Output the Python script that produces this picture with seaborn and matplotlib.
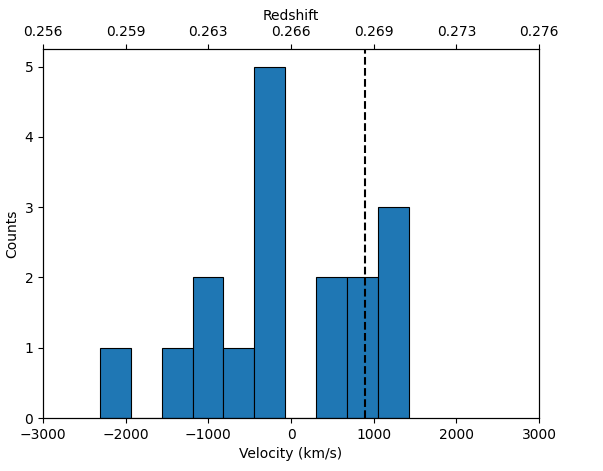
import numpy as np
import matplotlib
matplotlib.use("Agg")
import matplotlib.pyplot as plt
import seaborn as sns

# ── DATA ──────────────────────────────────────────────────────────────────────

BIN_EDGES = [-2308, -1935, -1562, -1190, -817, -444, -71, 302, 675, 1052, 1428]
COUNTS    = [1, 0, 1, 2, 1, 5, 0, 2, 2, 3]
V_MARK    = 900          # km/s, dashed line
Z_CLUSTER = 0.266        # redshift at v = 0
C_KMS     = 299792.458

VEL_TICKS = [-3000, -2000, -1000, 0, 1000, 2000, 3000]

centers = [(a + b) / 2 for a, b in zip(BIN_EDGES[:-1], BIN_EDGES[1:])]

# ── PLOT ──────────────────────────────────────────────────────────────────────

fig = plt.figure(figsize=(6.03, 4.71), dpi=100)
ax = fig.add_axes([0.0713, 0.1125, 0.8226, 0.7835])

sns.histplot(x=centers, weights=COUNTS, bins=BIN_EDGES, ax=ax,
             color='#1f77b4', alpha=1.0, edgecolor='black', linewidth=0.8)
ax.axvline(V_MARK, color='black', linestyle='--', linewidth=1.5)

ax.set_xlim(-3000, 3000)
ax.set_ylim(0, 5.25)
ax.set_xticks(VEL_TICKS)
ax.set_xlabel('Velocity (km/s)')
ax.set_ylabel('Counts')

# top axis in redshift
ax2 = ax.twiny()
ax2.set_xlim(ax.get_xlim())
ax2.set_xticks(VEL_TICKS)
ax2.set_xticklabels([f"{Z_CLUSTER + v / C_KMS:.3f}" for v in VEL_TICKS])
ax2.set_xlabel('Redshift')

fig.savefig('out.png', dpi=100)
